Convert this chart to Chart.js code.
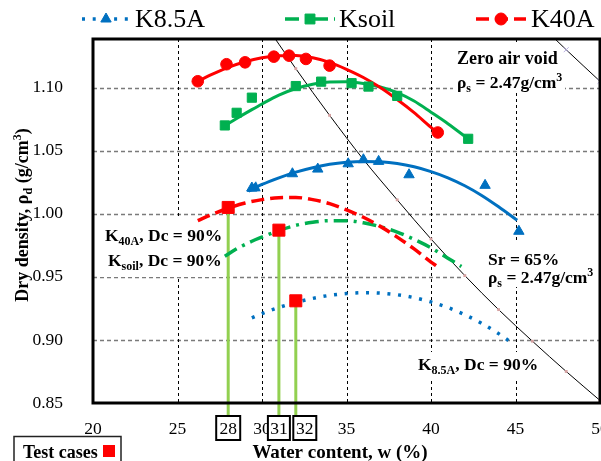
<!DOCTYPE html>
<html><head><meta charset="utf-8">
<script src="https://cdn.jsdelivr.net/npm/chart.js@4.4.0/dist/chart.umd.min.js"></script>
<style>html,body{margin:0;padding:0;background:#fff;}#wrap{width:601px;height:461px;}</style>
</head><body><div id="wrap"><canvas id="c" width="601" height="461"></canvas></div>
<script>
// ---- tick labels ----
const xTicks = [20, 25, 30, 35, 40, 45, 50];
const yTicks = [0.85, 0.90, 0.95, 1.00, 1.05, 1.10];

// ---- measured points ----
const k85W = [29.4, 31.8, 33.3, 35.1, 36.0, 36.9, 38.7, 43.2, 45.2];
const k85D = [1.0204, 1.0317, 1.0354, 1.0396, 1.0428, 1.0415, 1.0309, 1.0225, 0.9861];
const ksoilW = [27.8, 28.5, 29.4, 32.0, 33.5, 35.3, 36.3, 38.0, 42.2];
const ksoilD = [1.070, 1.080, 1.092, 1.1012, 1.1047, 1.1035, 1.1008, 1.0934, 1.0594];
const k40W = [26.2, 27.9, 29.0, 30.7, 31.6, 32.6, 34.0, 40.4];
const k40D = [1.105, 1.1185, 1.120, 1.1245, 1.1253, 1.1227, 1.1174, 1.0644];

// ---- fitted compaction curves ----
const fit85W = [29.2, 30, 31, 32, 33, 34, 35, 36, 37, 38, 39, 40, 41, 42, 43, 44, 45.1];
const fit85D = [1.0180, 1.0232, 1.0285, 1.0330, 1.0365, 1.0392, 1.0408, 1.0415, 1.0412, 1.0398, 1.0372, 1.0334, 1.0285, 1.0222, 1.0145, 1.0055, 0.9948];
const fitSoilW = [27.8, 28.5, 29.4, 30, 31, 32, 33, 34, 35, 36, 37, 38, 39, 40, 41, 42.2];
const fitSoilD = [1.0697, 1.0755, 1.0825, 1.0870, 1.0940, 1.0993, 1.1027, 1.1045, 1.1046, 1.1032, 1.1004, 1.0960, 1.0893, 1.0805, 1.0714, 1.0594];
const fit40W = [26.2, 27, 28, 29, 30, 31, 32, 33, 34, 35, 36, 37, 38, 39, 40, 40.4];
const fit40D = [1.1050, 1.1102, 1.1160, 1.1205, 1.1236, 1.1252, 1.1254, 1.1236, 1.1200, 1.1145, 1.1080, 1.1000, 1.0905, 1.0801, 1.0685, 1.0644];

// ---- Dc = 90% curves ----
const dc85W = [29.4, 30, 31, 32, 33, 34, 35, 36, 37, 38, 39, 40, 41, 42, 43, 44, 44.8];
const dc85D = [0.9175, 0.9209, 0.9257, 0.9297, 0.9329, 0.9353, 0.9367, 0.9374, 0.9371, 0.9358, 0.9335, 0.9301, 0.9257, 0.9200, 0.9131, 0.9050, 0.8975];
const dcSoilW = [27.8, 28.5, 29.4, 30, 31, 32, 33, 34, 35, 36, 37, 38, 39, 40, 41, 41.8];
const dcSoilD = [0.9663, 0.9722, 0.9782, 0.9815, 0.9867, 0.9908, 0.9933, 0.9945, 0.9945, 0.9928, 0.9897, 0.9855, 0.9797, 0.9730, 0.9648, 0.9582];
const dc40W = [26.2, 27, 28, 29, 30, 31, 32, 33, 34, 35, 36, 37, 38, 39, 40, 40.4];
const dc40D = [0.9945, 0.9992, 1.0044, 1.0085, 1.0112, 1.0127, 1.0129, 1.0112, 1.0080, 1.0031, 0.9972, 0.9900, 0.9815, 0.9721, 0.9617, 0.9580];

// ---- reference lines ----
const srW = [30, 32, 34, 36, 38, 40, 42, 44, 46, 48, 50];
const srD = [1.154, 1.115, 1.078, 1.043, 1.011, 0.980, 0.951, 0.924, 0.899, 0.875, 0.852];
const zavW = [46, 48, 50];
const zavD = [1.156, 1.130, 1.105];

// ---- test cases ----
const testW = [28, 31, 32];
const testD = [1.005, 0.987, 0.931];
const testLabels = ['28', '31', '32'];

const SERIF = '"Liberation Serif","Times New Roman",serif';
const RED = '#ff0000', GREEN = '#00b050', BLUE = '#0070c0';
const DASH40 = [13, 6], DASHSOIL = [14, 6, 3, 6], DASH85 = [3, 7.7];
const xy = (ws, ds) => ws.map((w, i) => ({x: w, y: ds[i]}));

function rich(ctx, x, y, parts, align) {
  let total = 0;
  const ps = parts.map(p => {
    ctx.font = (p[2] ? 'bold ' : '') + p[1] + 'px ' + SERIF;
    const w = ctx.measureText(p[0]).width; total += w; return {p, w};
  });
  let cx = align === 'center' ? x - total / 2 : x;
  ctx.textAlign = 'left'; ctx.textBaseline = 'alphabetic'; ctx.fillStyle = '#000';
  ps.forEach(({p, w}) => {
    ctx.font = (p[2] ? 'bold ' : '') + p[1] + 'px ' + SERIF;
    ctx.fillText(p[0], cx, y + (p[3] || 0)); cx += w;
  });
  return total;
}
const rhoS = [['ρ', 17.5, true], ['s', 12, true, 4], [' = 2.47g/cm', 17.5, true], ['3', 12, true, -7]];

const deco = {
  id: 'deco',
  beforeDatasetsDraw(chart) {
    const {ctx, chartArea: a, scales: {x, y}} = chart;
    ctx.save();
    ctx.lineWidth = 1.3; ctx.strokeStyle = '#7a7a7a'; ctx.setLineDash([4, 3]);
    yTicks.forEach(v => {
      const py = Math.round(y.getPixelForValue(v)) + 0.5;
      if (py > a.bottom - 3) return;
      ctx.beginPath(); ctx.moveTo(a.left, py); ctx.lineTo(a.right, py); ctx.stroke();
    });
    ctx.lineWidth = 1; ctx.strokeStyle = '#000'; ctx.setLineDash([3, 3]);
    xTicks.forEach(v => {
      const px = Math.round(x.getPixelForValue(v)) + 0.5;
      if (px < a.left + 3 || px > a.right - 3) return;
      ctx.beginPath(); ctx.moveTo(px, a.top); ctx.lineTo(px, a.bottom); ctx.stroke();
    });
    ctx.setLineDash([]);
    ctx.fillStyle = '#fff';
    [[453, 42, 112, 50], [464, 243, 136, 44], [414, 352, 126, 26], [100, 219, 126, 58]].forEach(r => ctx.fillRect(...r));
    ctx.strokeStyle = '#92d050'; ctx.lineWidth = 3;
    testW.forEach((w, i) => {
      const px = x.getPixelForValue(w), py = y.getPixelForValue(testD[i]);
      ctx.beginPath(); ctx.moveTo(px, py); ctx.lineTo(px, a.bottom + 13); ctx.stroke();
    });
    ctx.restore();
  },
  afterDatasetsDraw(chart) {
    const {ctx, chartArea: a, scales: {x, y}} = chart;
    ctx.save();
    const p0 = {x: x.getPixelForValue(fit85W[0]), y: y.getPixelForValue(fit85D[0])};
    const p1 = {x: x.getPixelForValue(fit85W[1]), y: y.getPixelForValue(fit85D[1])};
    let dx = p0.x - p1.x, dy = p0.y - p1.y; const L = Math.hypot(dx, dy); dx /= L; dy /= L;
    const bx = p0.x - dx * 11, by = p0.y - dy * 11;
    ctx.fillStyle = BLUE; ctx.beginPath();
    ctx.moveTo(p0.x + dx * 2, p0.y + dy * 2);
    ctx.lineTo(bx - dy * 5.5, by + dx * 5.5); ctx.lineTo(bx + dy * 5.5, by - dx * 5.5);
    ctx.closePath(); ctx.fill();
    ctx.strokeStyle = '#000'; ctx.lineWidth = 3;
    ctx.strokeRect(a.left, a.top, a.right - a.left, a.bottom - a.top);
    ctx.restore();
  },
  afterDraw(chart) {
    const {ctx, chartArea: a, scales: {x, y}} = chart;
    ctx.save();
    const leg = [
      [82, 130, BLUE, DASH85, 'triangle', 'K8.5A', 135],
      [285, 335, GREEN, DASHSOIL, 'rect', 'Ksoil', 339],
      [476, 526, RED, DASH40, 'circle', 'K40A', 531]
    ];
    const ly = 19;
    leg.forEach(l => {
      ctx.save(); ctx.strokeStyle = l[2]; ctx.lineWidth = 3.5; ctx.setLineDash(l[3]);
      ctx.beginPath(); ctx.moveTo(l[0], ly); ctx.lineTo(l[1], ly); ctx.stroke(); ctx.restore();
      ctx.fillStyle = l[2]; ctx.strokeStyle = l[2];
      Chart.helpers.drawPoint(ctx, {pointStyle: l[4], radius: l[4] === 'rect' ? 7 : 6, rotation: 0, borderWidth: 1}, (l[0] + l[1]) / 2, ly);
      ctx.fillStyle = '#000'; ctx.font = '26px ' + SERIF; ctx.textBaseline = 'middle'; ctx.textAlign = 'left';
      ctx.fillText(l[5], l[6], ly + 1);
    });
    rich(ctx, 340, 458, [['Water content, w (%)', 19, true]], 'center');
    ctx.save(); ctx.translate(28, 215); ctx.rotate(-Math.PI / 2);
    rich(ctx, 0, 0, [['Dry density, ρ', 18, true], ['d', 12, true, 4], [' (g/cm', 18, true], ['3', 12, true, -7], [')', 18, true]], 'center');
    ctx.restore();
    rich(ctx, 457, 64, [['Zero air void', 18, true]]);
    rich(ctx, 457, 88, rhoS);
    rich(ctx, 488, 265, [['Sr = 65%', 17.5, true]]);
    rich(ctx, 488, 283, rhoS);
    rich(ctx, 418, 370, [['K', 17.5, true], ['8.5A', 12, true, 4], [', Dc = 90%', 17.5, true]]);
    rich(ctx, 105, 241, [['K', 17.5, true], ['40A', 12, true, 4], [', Dc = 90%', 17.5, true]]);
    rich(ctx, 108, 266, [['K', 17.5, true], ['soil', 12, true, 4], [', Dc = 90%', 17.5, true]]);
    const shift = [0, 0, 9], bw = [24, 22, 23];
    ctx.lineWidth = 2; ctx.strokeStyle = '#000';
    testW.forEach((w, i) => {
      const cx = x.getPixelForValue(w) + shift[i];
      ctx.fillStyle = '#fff'; ctx.fillRect(cx - bw[i] / 2, a.bottom + 13, bw[i], 24);
      ctx.strokeRect(cx - bw[i] / 2, a.bottom + 13, bw[i], 24);
      ctx.fillStyle = '#000'; ctx.font = '17.5px ' + SERIF; ctx.textAlign = 'center'; ctx.textBaseline = 'middle';
      ctx.fillText(testLabels[i], cx, a.bottom + 26);
    });
    ctx.lineWidth = 1.5; ctx.strokeStyle = '#222';
    ctx.strokeRect(14, 436.5, 107, 30);
    rich(ctx, 23, 458, [['Test cases', 18, true]]);
    ctx.fillStyle = RED; ctx.fillRect(103, 445, 12, 12);
    ctx.restore();
  }
};

const line = (ws, ds, color, dash, width, extra) => Object.assign({
  data: xy(ws, ds), showLine: true, borderColor: color, borderWidth: width, borderDash: dash,
  pointRadius: 0, cubicInterpolationMode: 'monotone', fill: false
}, extra || {});
const pts = (ws, ds, color, style, r) => ({
  data: xy(ws, ds), showLine: false, pointStyle: style, pointRadius: r,
  backgroundColor: color, borderColor: color, borderWidth: 1
});

const chart = new Chart(document.getElementById('c'), {
  type: 'scatter',
  data: {datasets: [
    pts(testW, testD, RED, 'rect', 8.5),
    pts(k40W, k40D, RED, 'circle', 5.8),
    pts(ksoilW, ksoilD, GREEN, 'rect', 6.5),
    pts(k85W, k85D, BLUE, 'triangle', 6),
    line(fit40W, fit40D, RED, [], 3),
    line(fitSoilW, fitSoilD, GREEN, [], 3),
    line(fit85W, fit85D, BLUE, [], 3),
    line(dc40W, dc40D, RED, DASH40, 3.5),
    line(dcSoilW, dcSoilD, GREEN, DASHSOIL, 3.5),
    line(dc85W, dc85D, BLUE, DASH85, 3.5),
    line(srW, srD, '#000', [], 1, {pointRadius: 2, pointStyle: 'rect', pointBackgroundColor: '#d4a0a0', pointBorderColor: '#d4a0a0', pointBorderWidth: 0}),
    line(zavW, zavD, '#000', [], 1, {pointRadius: 3.5, pointStyle: 'crossRot', pointBorderColor: '#b8b0e0', pointBorderWidth: 1})
  ]},
  options: {
    responsive: false, animation: false, events: [],
    layout: {padding: {top: 39, right: 1, left: 0, bottom: 0}, autoPadding: false},
    plugins: {legend: {display: false}, tooltip: {enabled: false}},
    scales: {
      x: {
        type: 'linear', min: 20, max: 50,
        afterBuildTicks: s => { s.ticks = xTicks.map(v => ({value: v})); },
        afterFit: s => { s.height = 58; s.paddingLeft = 0; s.paddingRight = 0; },
        grid: {display: false}, border: {display: false},
        ticks: {padding: 8, color: '#000', font: {family: SERIF, size: 17.5}, maxRotation: 0, autoSkip: false, callback: v => String(v)}
      },
      y: {
        type: 'linear', min: 0.85, max: 1.1385,
        afterBuildTicks: s => { s.ticks = yTicks.map(v => ({value: v})); },
        afterFit: s => { s.width = 93; s.paddingTop = 0; s.paddingBottom = 0; },
        grid: {display: false}, border: {display: false},
        ticks: {padding: 22, color: '#000', font: {family: SERIF, size: 17.5}, autoSkip: false, callback: v => v.toFixed(2)}
      }
    }
  },
  plugins: [deco]
});
const ca = chart.chartArea;
const pad = chart.options.layout.padding;
const dR = 600 - ca.right, dB = 403 - ca.bottom, dT = 39 - ca.top, dL = 93 - ca.left;
if (Math.abs(dR) > 0.5 || Math.abs(dB) > 0.5 || Math.abs(dT) > 0.5 || Math.abs(dL) > 0.5) {
  chart.options.layout.padding = {top: pad.top + dT, right: pad.right - dR, bottom: pad.bottom - dB, left: pad.left + dL};
  chart.update();
}
</script>
</body></html>
